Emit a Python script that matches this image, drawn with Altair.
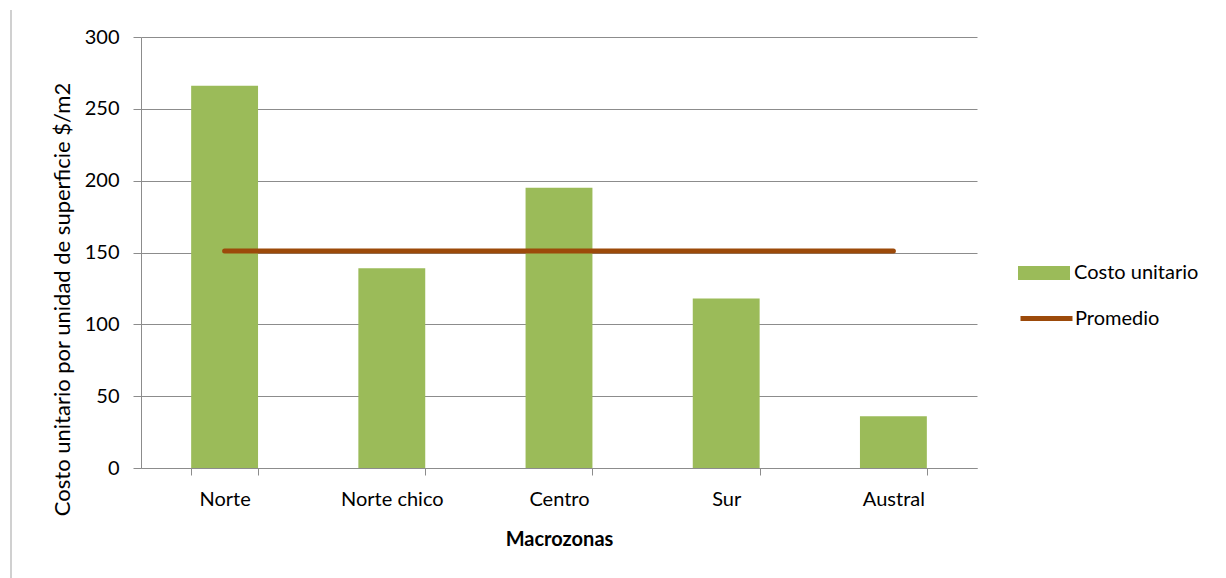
import altair as alt
import pandas as pd

categorias = ["Norte", "Norte chico", "Centro", "Sur", "Austral"]
costo_unitario = [266, 139, 195, 118, 36]
promedio = [151, 151, 151, 151, 151]

df = pd.DataFrame({
    "Macrozona": categorias,
    "Costo": costo_unitario,
    "Promedio": promedio,
    "s1": ["Costo unitario"] * len(categorias),
    "s2": ["Promedio"] * len(categorias),
})

FONT = "Lato"
GREEN = "#9BBB59"
BROWN = "#9C4A0A"
GRID = "#8C8C8C"

x_enc = alt.X(
    "Macrozona:N",
    sort=categorias,
    scale=alt.Scale(paddingInner=0.6, paddingOuter=0.3),
    axis=alt.Axis(
        title="Macrozonas",
        labelAngle=0,
        tickBand="extent",
        tickSize=7,
        tickColor=GRID,
        domainColor=GRID,
        labelPadding=14,
        labelFontSize=20,
        labelColor="#000",
        labelFont=FONT,
        titleFont=FONT,
        titleFontSize=20,
        titleFontWeight="bold",
        titleColor="#000",
        titlePadding=20,
        grid=False,
    ),
)

bars = alt.Chart(df).mark_bar(color=GREEN).encode(
    x=x_enc,
    y=alt.Y(
        "Costo:Q",
        scale=alt.Scale(domain=[0, 300], nice=False),
        axis=alt.Axis(
            title="Costo unitario por unidad de superficie $/m2",
            values=[0, 50, 100, 150, 200, 250, 300],
            tickSize=8,
            tickColor=GRID,
            domainColor=GRID,
            gridColor=GRID,
            gridWidth=1,
            labelPadding=14,
            labelFontSize=20,
            labelColor="#000",
            labelFont=FONT,
            titleFont=FONT,
            titleFontSize=22,
            titleFontWeight="normal",
            titleColor="#000",
            titlePadding=10,
            titleY=262,
        ),
    ),
    color=alt.Color(
        "s1:N",
        scale=alt.Scale(domain=["Costo unitario"], range=[GREEN]),
        legend=alt.Legend(
            title=None,
            orient="none",
            legendX=877,
            legendY=210,
            symbolType="M-1,-0.27H1V0.27H-1Z",
            symbolSize=2704,
            symbolStrokeWidth=0,
            labelFont=FONT,
            labelFontSize=20,
            labelColor="#000",
            labelOffset=4,
        ),
    ),
)

line = alt.Chart(df).mark_line(strokeWidth=5, strokeCap="round").encode(
    x=alt.X("Macrozona:N", sort=categorias),
    y=alt.Y("Promedio:Q"),
    color=alt.Color(
        "s2:N",
        scale=alt.Scale(domain=["Promedio"], range=[BROWN]),
        legend=alt.Legend(
            title=None,
            orient="none",
            legendX=877,
            legendY=253,
            symbolType="stroke",
            symbolSize=2704,
            symbolStrokeWidth=5,
            labelFont=FONT,
            labelFontSize=20,
            labelColor="#000",
            labelOffset=0,
        ),
    ),
)

border = alt.Chart(df).mark_rule(color="#D0D0D0", strokeWidth=2).encode(
    x=alt.value(-130), y=alt.value(-27), y2=alt.value(545)
)

chart = (
    alt.layer(border, bars, line)
    .resolve_scale(color="independent")
    .properties(
        width=836,
        height=431,
        padding={"left": 141, "top": 37, "right": 249, "bottom": 110},
        autosize=alt.AutoSizeParams(type="none"),
        background="white",
    )
    .configure_view(stroke=None)
)

chart.save("out.html", embed_options={"renderer": "svg", "actions": False})
